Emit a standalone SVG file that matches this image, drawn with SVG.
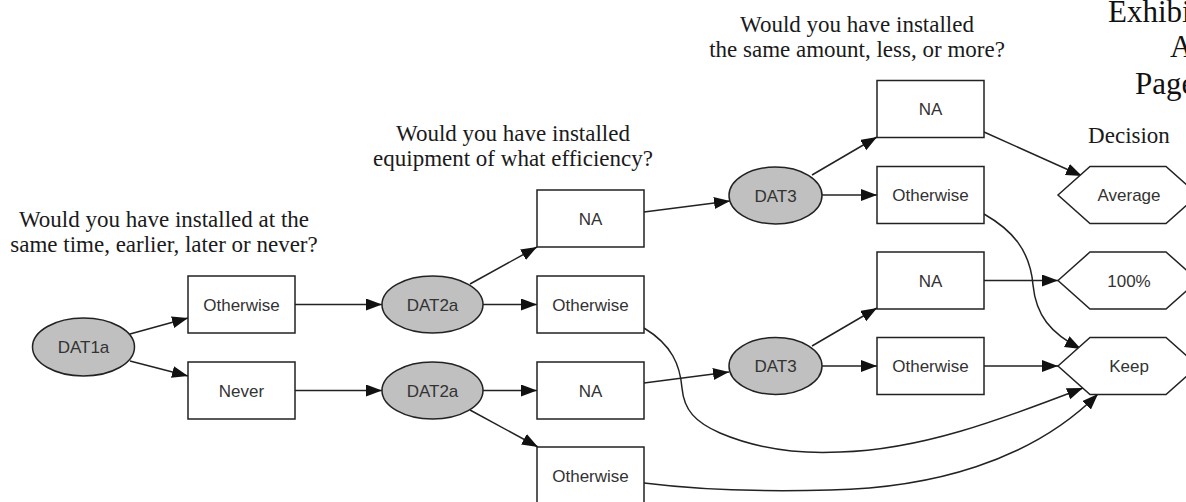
<svg xmlns="http://www.w3.org/2000/svg" width="1186" height="502" viewBox="0 0 1186 502">
  <style>
    .bg { fill: #ffffff; }
    .box { fill: #ffffff; stroke: #222222; stroke-width: 1.5; }
    .oval { fill: #c0c0c0; stroke: #222222; stroke-width: 1.5; }
    .hex { fill: #ffffff; stroke: #222222; stroke-width: 1.5; }
    .lbl { font-family: "Liberation Sans", Arial, sans-serif; font-size: 17px; fill: #333333; text-anchor: middle; }
    .q { font-family: "Liberation Serif", "Times New Roman", serif; font-size: 23px; fill: #1a1a1a; text-anchor: middle; }
    .hdr { font-family: "Liberation Serif", "Times New Roman", serif; font-size: 31px; fill: #111111; }
    .edge { fill: none; stroke: #222222; stroke-width: 1.5; marker-end: url(#arrow); }
  </style>
  <defs>
    <marker id="arrow" markerUnits="userSpaceOnUse" markerWidth="17" markerHeight="13" refX="16" refY="6" orient="auto">
      <path d="M0,0 L16,6 L0,12 z" fill="#111111"/>
    </marker>
  </defs>

  <rect class="bg" x="0" y="0" width="1186" height="502"/>

  <!-- page header, running off the right margin -->
  <g id="header">
    <text class="hdr" x="1108" y="22">Exhibit</text>
    <text class="hdr" x="1170" y="57">A</text>
    <text class="hdr" x="1135" y="94">Page</text>
  </g>

  <!-- column headings -->
  <g id="headings">
    <text class="q" x="164" y="227">Would you have installed at the</text>
    <text class="q" x="164" y="252">same time, earlier, later or never?</text>
    <text class="q" x="513" y="141">Would you have installed</text>
    <text class="q" x="513" y="166">equipment of what efficiency?</text>
    <text class="q" x="857" y="32">Would you have installed</text>
    <text class="q" x="857" y="57">the same amount, less, or more?</text>
    <text class="q" x="1129" y="143">Decision</text>
  </g>

  <!-- connectors -->
  <g id="connectors">
    <path class="edge" d="M130,334 L188,318"/>
    <path class="edge" d="M130,361 L188,376"/>
    <path class="edge" d="M295,304.5 L382,304.5"/>
    <path class="edge" d="M295,390.5 L382,390.5"/>
    <path class="edge" d="M470,284 L537,247"/>
    <path class="edge" d="M483,304.5 L537,304.5"/>
    <path class="edge" d="M483,390.5 L537,390.5"/>
    <path class="edge" d="M470,410 L538,447"/>
    <path class="edge" d="M644,212 L730,201"/>
    <path class="edge" d="M812,175 L877,137"/>
    <path class="edge" d="M822,195 L877,195"/>
    <path class="edge" d="M984,132 L1082,176"/>
    <path class="edge" d="M984,214 C1012,230 1030,250 1033,285 C1036,315 1050,333 1081,349"/>
    <path class="edge" d="M984,280.5 L1058,280.5"/>
    <path class="edge" d="M812,346 L877,308"/>
    <path class="edge" d="M822,366 L877,366"/>
    <path class="edge" d="M984,366 L1058,366"/>
    <path class="edge" d="M644,383 L729,372"/>
    <path class="edge" d="M644,328 C672,345 680,365 682,388 C684,410 695,422 720,433 C760,450 800,454 840,452 C920,450 1000,420 1083,388"/>
    <path class="edge" d="M644,483 C700,490 760,492 830,490 C930,488 1030,462 1098,394"/>
  </g>

  <!-- first question -->
  <g id="dat1a">
    <ellipse class="oval" cx="83.5" cy="347" rx="51" ry="29"/>
    <text class="lbl" x="83.5" y="353">DAT1a</text>
  </g>
  <g id="q1-otherwise">
    <rect class="box" x="188" y="276" width="107" height="57"/>
    <text class="lbl" x="241.5" y="310.5">Otherwise</text>
  </g>
  <g id="q1-never">
    <rect class="box" x="188" y="362" width="107" height="57"/>
    <text class="lbl" x="241.5" y="396.5">Never</text>
  </g>

  <!-- second question -->
  <g id="dat2a-upper">
    <ellipse class="oval" cx="432.5" cy="304.5" rx="50.5" ry="28.5"/>
    <text class="lbl" x="432.5" y="310.5">DAT2a</text>
  </g>
  <g id="dat2a-lower">
    <ellipse class="oval" cx="432.5" cy="390.5" rx="50.5" ry="28.5"/>
    <text class="lbl" x="432.5" y="396.5">DAT2a</text>
  </g>
  <g id="q2-na-upper">
    <rect class="box" x="537" y="190" width="107" height="57"/>
    <text class="lbl" x="590.5" y="224.5">NA</text>
  </g>
  <g id="q2-otherwise-upper">
    <rect class="box" x="537" y="276" width="107" height="57"/>
    <text class="lbl" x="590.5" y="310.5">Otherwise</text>
  </g>
  <g id="q2-na-lower">
    <rect class="box" x="537" y="362" width="107" height="57"/>
    <text class="lbl" x="590.5" y="396.5">NA</text>
  </g>
  <g id="q2-otherwise-lower">
    <rect class="box" x="537" y="447" width="107" height="57"/>
    <text class="lbl" x="590.5" y="481.5">Otherwise</text>
  </g>

  <!-- third question -->
  <g id="dat3-upper">
    <ellipse class="oval" cx="775.5" cy="195.5" rx="46.5" ry="28.5"/>
    <text class="lbl" x="775.5" y="201.5">DAT3</text>
  </g>
  <g id="dat3-lower">
    <ellipse class="oval" cx="775.5" cy="366" rx="46.5" ry="28.5"/>
    <text class="lbl" x="775.5" y="372">DAT3</text>
  </g>
  <g id="q3-na-upper">
    <rect class="box" x="877" y="80.5" width="107" height="57"/>
    <text class="lbl" x="930.5" y="115">NA</text>
  </g>
  <g id="q3-otherwise-upper">
    <rect class="box" x="877" y="166.5" width="107" height="57"/>
    <text class="lbl" x="930.5" y="201">Otherwise</text>
  </g>
  <g id="q3-na-lower">
    <rect class="box" x="877" y="252" width="107" height="57"/>
    <text class="lbl" x="930.5" y="286.5">NA</text>
  </g>
  <g id="q3-otherwise-lower">
    <rect class="box" x="877" y="337.5" width="107" height="57"/>
    <text class="lbl" x="930.5" y="372">Otherwise</text>
  </g>

  <!-- decisions -->
  <g id="decision-average">
    <polygon class="hex" points="1058,195 1090,166.5 1166,166.5 1198,195 1166,223.5 1090,223.5"/>
    <text class="lbl" x="1129" y="201">Average</text>
  </g>
  <g id="decision-100">
    <polygon class="hex" points="1058,280.5 1090,252 1166,252 1198,280.5 1166,309 1090,309"/>
    <text class="lbl" x="1129" y="286.5">100%</text>
  </g>
  <g id="decision-keep">
    <polygon class="hex" points="1058,366 1090,337.5 1166,337.5 1198,366 1166,394.5 1090,394.5"/>
    <text class="lbl" x="1129" y="372">Keep</text>
  </g>
</svg>
